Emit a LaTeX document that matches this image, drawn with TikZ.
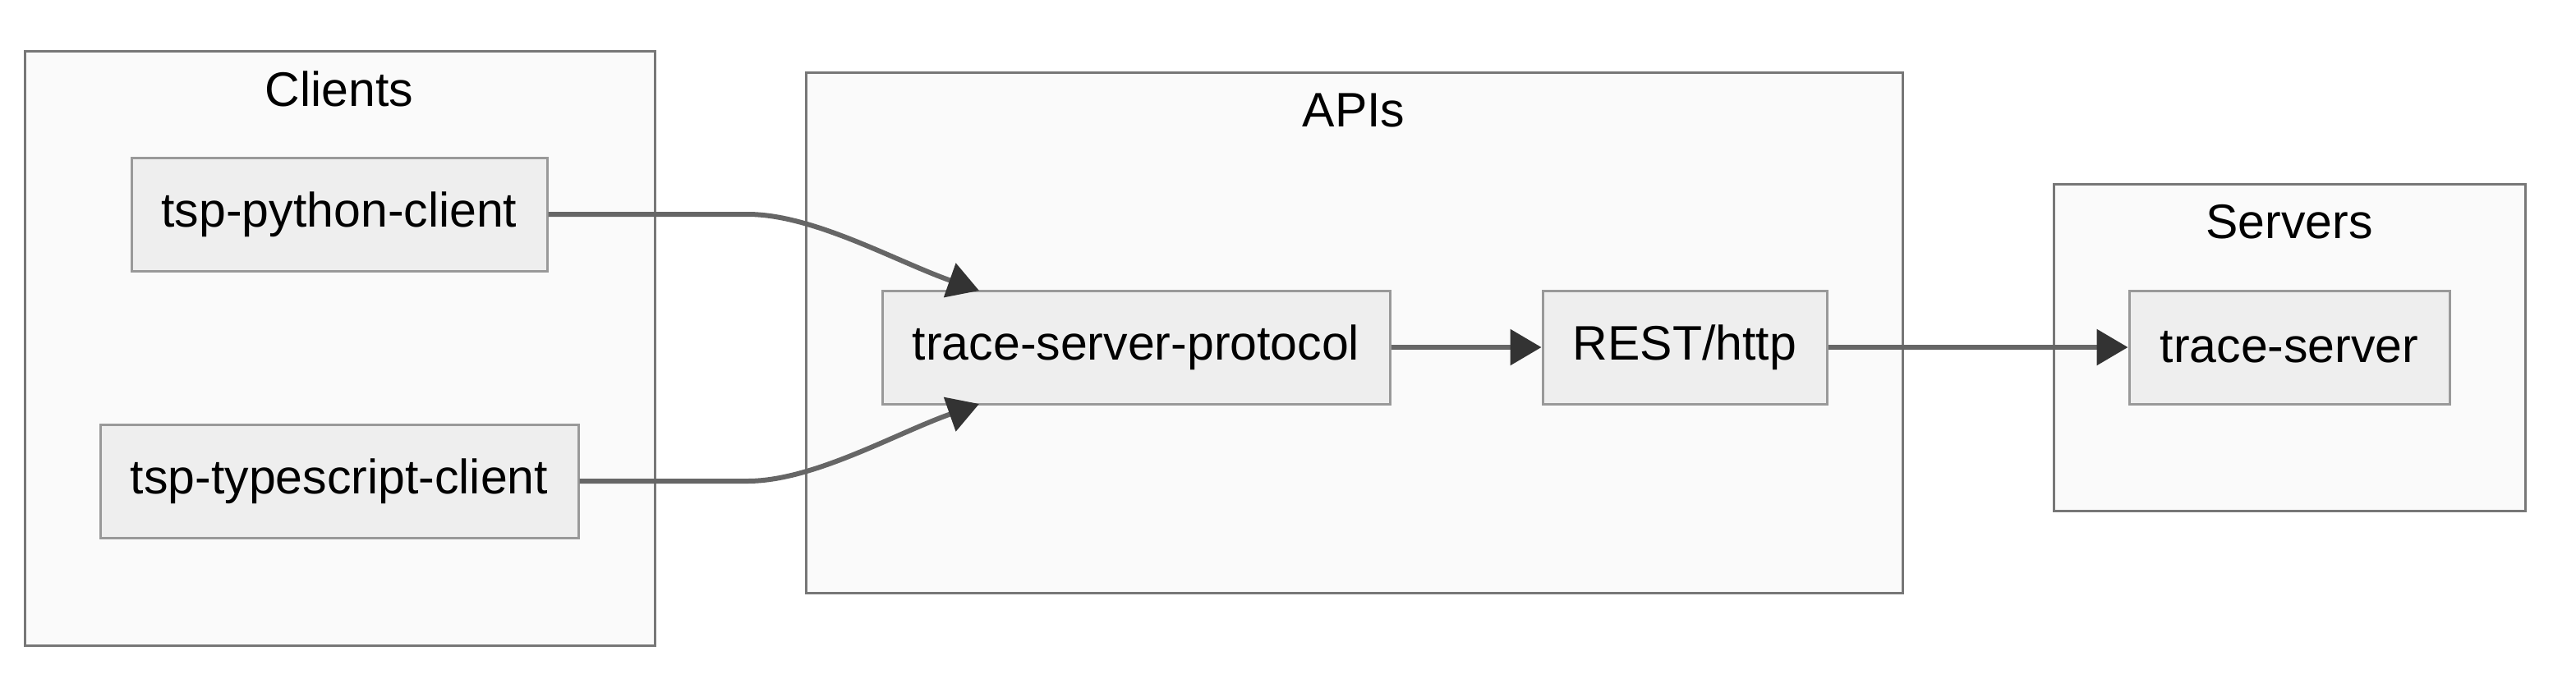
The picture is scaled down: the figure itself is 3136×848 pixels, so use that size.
\documentclass[tikz,border=0pt]{standalone}
\usepackage{fontspec}
\setmainfont{Liberation Sans}
\usetikzlibrary{arrows.meta}
\definecolor{groupfill}{HTML}{FAFAFA}
\definecolor{groupline}{HTML}{777777}
\definecolor{boxfill}{HTML}{EEEEEE}
\definecolor{boxline}{HTML}{999999}
\definecolor{edgeline}{HTML}{666666}
\definecolor{tipfill}{HTML}{333333}

\begin{document}
\begin{tikzpicture}[x=0.5pt, y=-0.5pt,
    font=\fontsize{29.5}{35}\selectfont,
    group/.style={draw=groupline, fill=groupfill, line width=1.5pt, inner sep=0pt},
    grouptitle/.style={inner sep=0pt},
    box/.style={draw=boxline, fill=boxfill, line width=1.5pt, minimum height=69pt, inner sep=0pt},
    link/.style={draw=edgeline, line width=3pt, -{Triangle[length=19pt, width=21.5pt, color=tipfill]}}]
  \useasboundingbox[fill=white] (0,0) rectangle (3136,848);

  % Groups
  \node[group, minimum width=383.5pt, minimum height=362pt] (clients) at (413.5,424) {};
  \node[group, minimum width=667.5pt, minimum height=317pt] (apis) at (1648.5,405) {};
  \node[group, minimum width=287pt, minimum height=199pt] (servers) at (2787,423) {};
  \node[grouptitle] (clientsT) at (413,108) {Clients};
  \node[grouptitle] (apisT) at (1648,134) {APIs};
  \node[grouptitle] (serversT) at (2787,270) {Servers};

  % Boxes
  \node[box, minimum width=253pt] (python) at (413,261) {tsp-python-client};
  \node[box, minimum width=291pt] (typescript) at (413,586) {tsp-typescript-client};
  \node[box, minimum width=309pt] (protocol) at (1383,423) {trace-server-protocol};
  \node[box, minimum width=173pt] (rest) at (2051,423) {REST/http};
  \node[box, minimum width=195pt] (server) at (2787,423) {trace-server};

  \coordinate (inTop) at (1192,354);
  \coordinate (inBot) at (1192,492);

  % Links
  \draw[link] (python.east) -- (910,261) .. controls (990,261) and (1090,318) .. (inTop);
  \draw[link] (typescript.east) -- (910,586) .. controls (990,586) and (1090,528) .. (inBot);
  \draw[link] (protocol) -- (rest);
  \draw[link] (rest) -- (server);
\end{tikzpicture}
\end{document}
